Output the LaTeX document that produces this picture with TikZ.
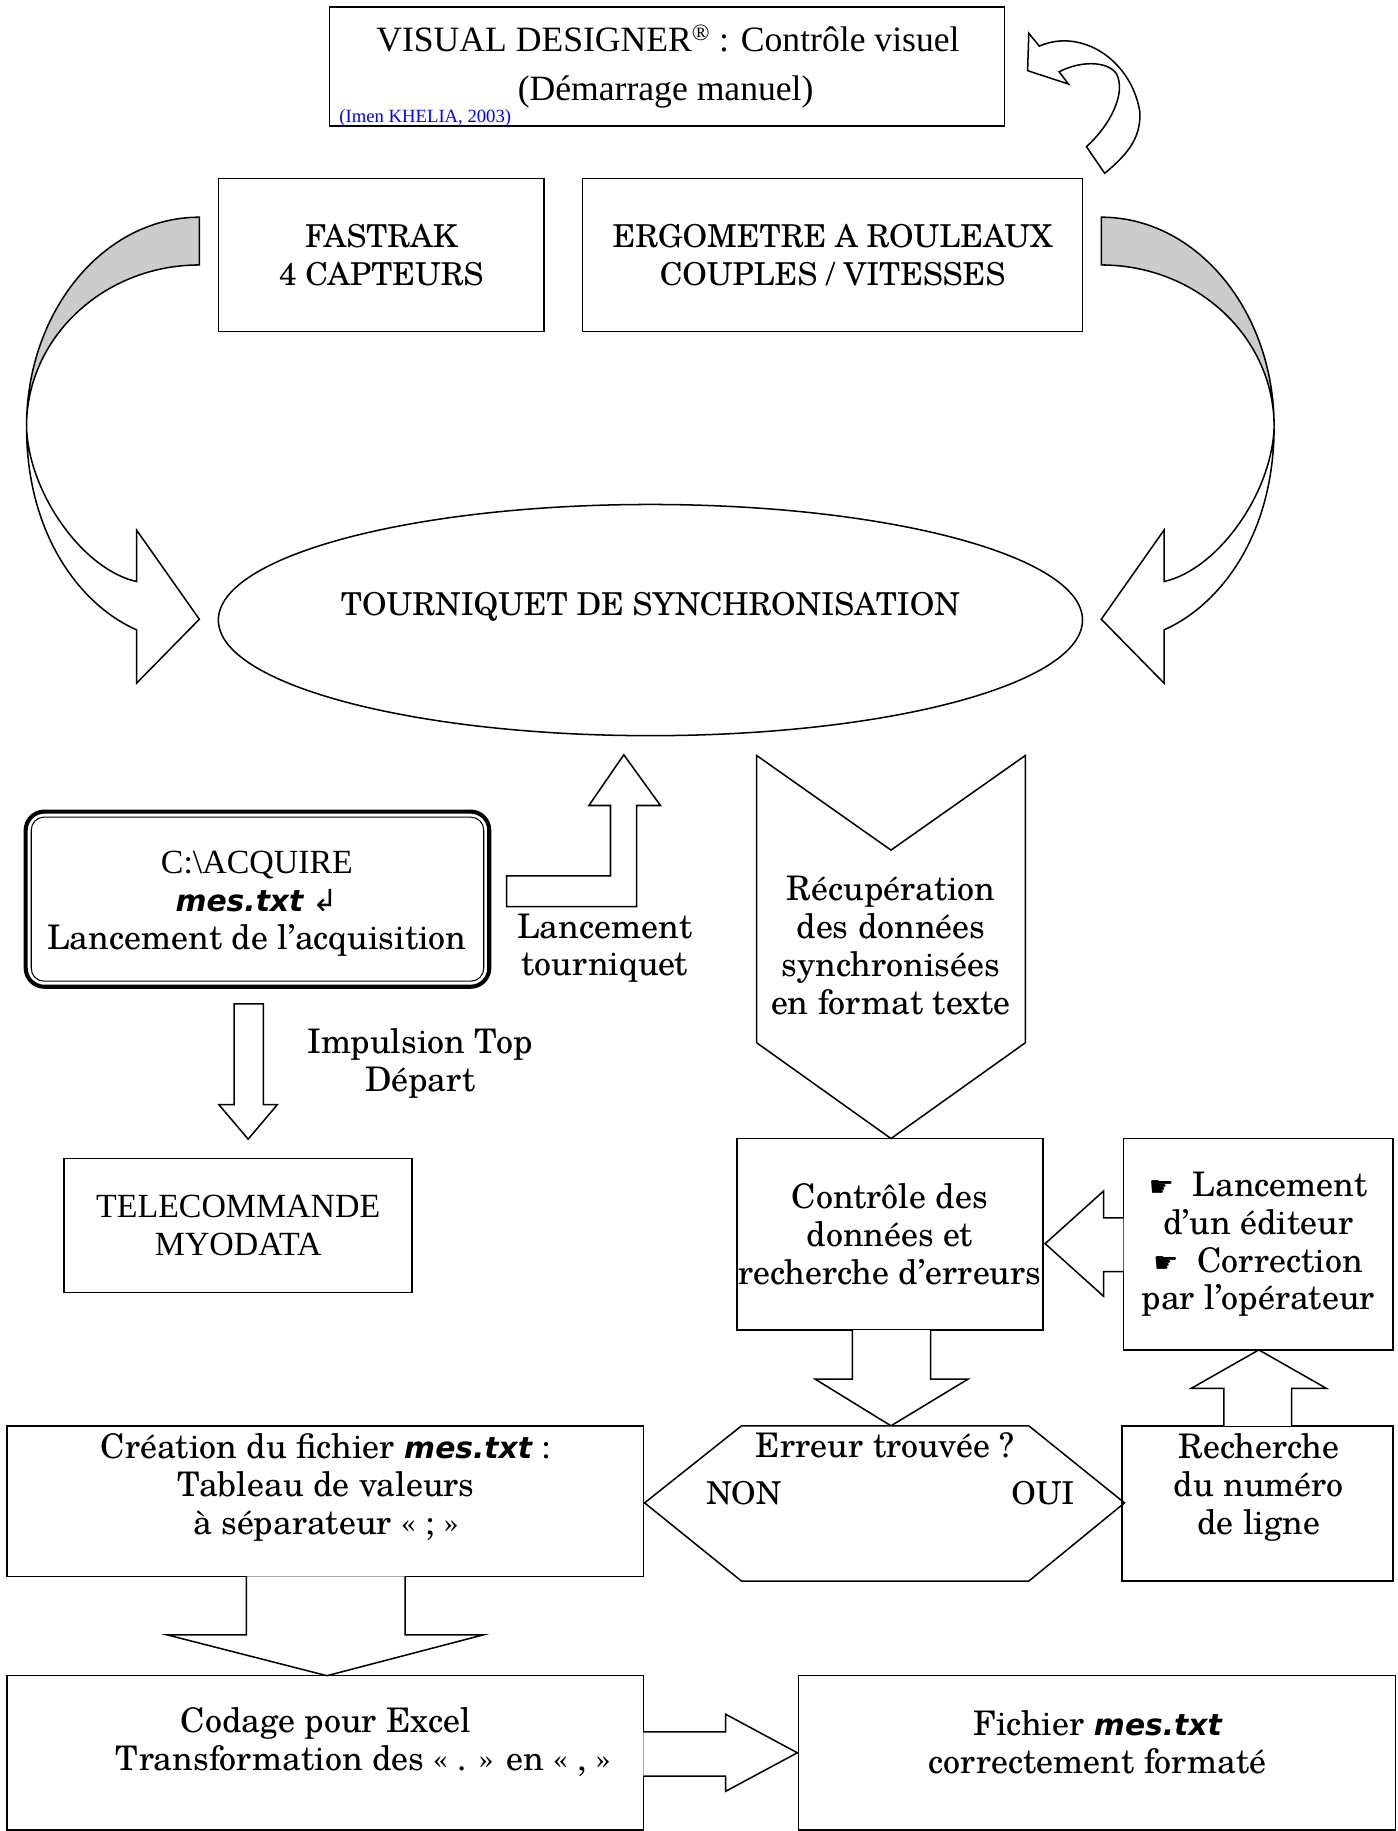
\documentclass[tikz,border=0pt]{standalone}
\usepackage{fontspec}
\setmainfont{texgyreschola}[Extension=.otf, UprightFont=*-regular, BoldFont=*-bold, ItalicFont=*-italic, BoldItalicFont=*-bolditalic]
\newfontfamily\timesfont{Liberation Serif}
\newfontfamily\dejafont{DejaVu Sans}
\usetikzlibrary{shapes.geometric}

\newcommand{\mestxt}{{\dejafont\fontsize{25.5}{30}\selectfont\bfseries\itshape mes.txt}}
\newcommand{\handsym}{{\dejafont\fontsize{24}{28}\selectfont ☛}}

\begin{document}
\begin{tikzpicture}[
    x=1pt,
    y=-1pt,
    line width=1.3pt,
    txt/.style={align=center, inner sep=0pt, font=\fontsize{29}{32.5}\selectfont},
    capstxt/.style={align=center, inner sep=0pt, font=\fontsize{27}{32.5}\selectfont},
    tms/.style={align=center, inner sep=0pt, font=\timesfont\fontsize{29}{32.5}\selectfont},
    box/.style={draw, rectangle, inner sep=0pt},
    blockarrow/.style={draw, fill=white, line join=miter}
]
\useasboundingbox (0,0) rectangle (1197,1568);

% Top box
\node[box, minimum width=578, minimum height=102] (topbox) at (571,57) {};
\node[tms, anchor=base, font=\timesfont\fontsize{30.5}{34}\selectfont] (designer) at (572,44) {VISUAL DESIGNER\textsuperscript{\fontsize{20}{20}\selectfont®} : Contrôle visuel};
\node[tms, anchor=base, font=\timesfont\fontsize{30.5}{34}\selectfont] (demarrage) at (570,86) {(Démarrage manuel)};
\node[anchor=base west, inner sep=0pt, text=blue, font=\timesfont\fontsize{16}{18}\selectfont] (khelia) at (290,105) {(Imen KHELIA, 2003)};

% Curl arrow next to the top box
\draw[blockarrow] (881,28.5) -- (890,39.5)
    .. controls (925,24) and (968,50) .. (976,95)
    .. controls (978,120) and (962,135) .. (946,148.4)
    -- (930.4,125.6)
    .. controls (950,108) and (965,80) .. (956,63)
    .. controls (948,52) and (925,52) .. (907,61.5)
    -- (915,72) -- (880,60.5) -- cycle;

% Sensors
\node[box, capstxt, minimum width=279, minimum height=131] (fastrak) at (326.5,218.5) {FASTRAK\\4 CAPTEURS};
\node[box, capstxt, minimum width=428, minimum height=131] (ergo) at (713,218.5) {ERGOMETRE A ROULEAUX\\COUPLES / VITESSES};

% Side arrows (left one, then mirrored)
\foreach \sx/\dx in {1/0, -1/1113.8} {
  \begin{scope}[shift={(\dx,0)}, xscale=\sx]
    \draw[fill=black!20] (170.7,186) .. controls (89,186) and (22.7,266.3) .. (22.7,365.3)
        .. controls (22.7,288.9) and (89,226.9) .. (170.7,226.9) -- cycle;
    \draw[blockarrow] (22.7,365.3) .. controls (24.3,422.4) and (71.3,488) .. (117,498)
        -- (117,454) -- (170.7,530.3) -- (117,585) -- (117,539.4)
        .. controls (71.3,519.4) and (22.8,461) .. (22.7,365.3) -- cycle;
  \end{scope}
}

% Turnstile
\node[draw, ellipse, minimum width=740, minimum height=198] (tourniquet) at (557,531) {};
\node[capstxt, anchor=base] (tourniquettxt) at (557,527) {TOURNIQUET DE SYNCHRONISATION};

% Acquisition
\node[draw, line width=3.5pt, rounded corners=16, minimum width=397, minimum height=150, inner sep=0pt] (acquire) at (220.5,770) {};
\draw[line width=0.9pt, rounded corners=11] ([shift={(6.5,6.5)}]acquire.north west) rectangle ([shift={(-6.5,-6.5)}]acquire.south east);
\node[txt] (acquiretxt) at (220,774) {{\timesfont C:\textbackslash ACQUIRE}\\\mestxt\ {\dejafont\fontsize{26}{28}\selectfont ↲}\\Lancement de l’acquisition};

\draw[blockarrow] (433.8,776.3) -- (545.1,776.3) -- (545.1,689.8) -- (565.6,689.8) -- (534.2,646.4)
    -- (504.3,689.8) -- (522.8,689.8) -- (522.8,750) -- (433.8,750) -- cycle;
\node[txt] (lancementtxt) at (518,812) {Lancement\\tourniquet};

\draw[blockarrow] (200.5,859.6) -- (225.5,859.6) -- (225.5,946) -- (237.5,946) -- (212.5,975.5)
    -- (187.5,946) -- (200.5,946) -- cycle;
\node[txt] (impulsiontxt) at (360,911) {Impulsion Top\\Départ};

\node[box, tms, minimum width=298, minimum height=115] (telecom) at (204,1049.5) {TELECOMMANDE\\MYODATA};

% Data recovery
\draw[blockarrow] (648,647) -- (763,728) -- (878,647) -- (878,893) -- (763,975) -- (648,893) -- cycle;
\node[txt] (recuptxt) at (763,810) {Récupération\\des données\\synchronisées\\en format texte};

\node[box, txt, minimum width=262, minimum height=164] (controle) at (762,1057) {Contrôle des\\données et\\recherche d’erreurs};
\node[box, txt, minimum width=231, minimum height=181] (editeur) at (1077.5,1065.5) {\handsym\ \ Lancement\\d’un éditeur\\\handsym\ \ Correction\\par l’opérateur};

\draw[blockarrow] (962,1043) -- (945,1043) -- (945,1020) -- (895,1065) -- (945,1110) -- (945,1089) -- (962,1089);
\draw[blockarrow] (730,1139) -- (730,1181) -- (698,1181) -- (763,1221) -- (829,1181) -- (797,1181) -- (797,1139);

% Decision
\draw[fill=white] (552,1287) -- (635,1221) -- (881,1221) -- (963,1287) -- (881,1354) -- (635,1354) -- cycle;
\node[txt, anchor=base] (erreurtxt) at (758,1248) {Erreur trouvée ?};
\node[capstxt, anchor=base] (nontxt) at (637,1288) {NON};
\node[capstxt, anchor=base] (ouitxt) at (893,1288) {OUI};

\node[box, minimum width=232, minimum height=133] (recherche) at (1077,1287.5) {};
\node[txt] (recherchetxt) at (1078,1274) {Recherche\\du numéro\\de ligne};
\draw[blockarrow] (1048,1221) -- (1048,1189) -- (1020,1189) -- (1078,1156) -- (1136,1189) -- (1106,1189) -- (1106,1221);

% Output files
\node[box, minimum width=545, minimum height=129] (creation) at (278.5,1285.5) {};
\node[txt] (creationtxt) at (279,1274) {Création du fichier \mestxt\ :\\Tableau de valeurs\\à séparateur « ; »};
\draw[blockarrow] (211,1350) -- (211,1400) -- (143,1400) -- (280,1435) -- (414,1400) -- (347,1400) -- (347,1350);

\node[box, minimum width=545, minimum height=132] (codage) at (278.5,1501) {};
\node[txt, anchor=base] (codagetxt) at (279,1484) {Codage pour Excel};
\node[txt, anchor=base] (transfotxt) at (311,1516) {Transformation des « . » en « , »};

\node[box, minimum width=511, minimum height=132] (fichier) at (939.5,1501) {};
\node[txt] (fichiertxt) at (940,1492) {Fichier \mestxt\\correctement formaté};
\draw[blockarrow] (551,1483) -- (621.4,1483) -- (621.4,1468) -- (682.8,1501) -- (621.4,1534) -- (621.4,1521) -- (551,1521);

\end{tikzpicture}
\end{document}
